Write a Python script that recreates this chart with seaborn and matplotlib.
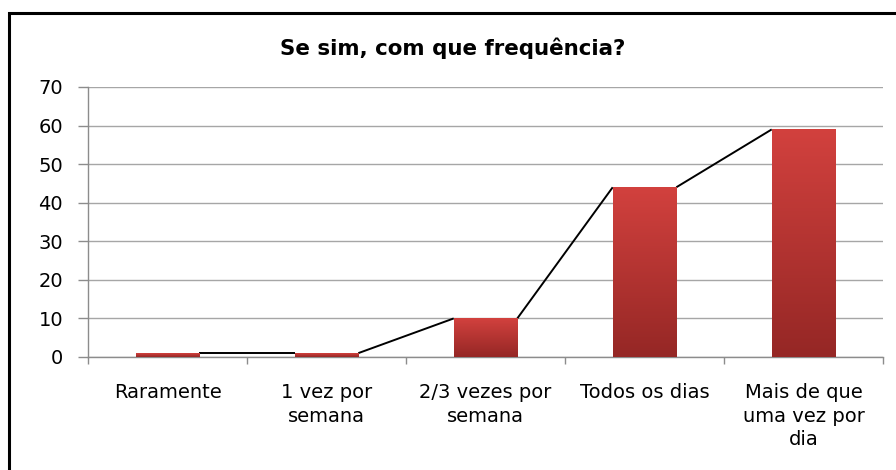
import numpy as np
import pandas as pd
import matplotlib
matplotlib.use('Agg')
import matplotlib.pyplot as plt
import seaborn as sns
from matplotlib.colors import LinearSegmentedColormap
from matplotlib.patches import Rectangle

# data
categories = ['Raramente', '1 vez por\nsemana', '2/3 vezes por\nsemana',
              'Todos os dias', 'Mais de que\numa vez por\ndia']
values = [1, 1, 10, 44, 59]
y_ticks = [0, 10, 20, 30, 40, 50, 60, 70]
title = 'Se sim, com que frequência?'

df = pd.DataFrame({'cat': categories, 'val': values})

sns.set_style('white')
plt.rcParams['font.family'] = ['DejaVu Sans']
plt.rcParams['text.color'] = 'black'
plt.rcParams['xtick.color'] = 'black'
plt.rcParams['ytick.color'] = 'black'

fig = plt.figure(figsize=(8.96, 4.70), dpi=100)
ax = fig.add_axes([88 / 896, 1 - 357 / 470, (883 - 88) / 896, 270 / 470])

sns.barplot(data=df, x='cat', y='val', width=0.4, color='#c93c39',
            ax=ax, zorder=3, saturation=1)

# gradient fill on the bars
grad_cmap = LinearSegmentedColormap.from_list('redgrad', ['#952725', '#d2413e'])
grad = np.linspace(0, 1, 256).reshape(-1, 1)
lefts, rights, tops = [], [], []
for p in ax.patches:
    x0, y0, w, h = p.get_x(), p.get_y(), p.get_width(), p.get_height()
    p.set_facecolor('none')
    p.set_edgecolor('none')
    im = ax.imshow(grad, extent=[x0, x0 + w, y0, y0 + h], origin='lower',
                   aspect='auto', cmap=grad_cmap, zorder=3)
    im.set_clip_path(p)
    lefts.append(x0)
    rights.append(x0 + w)
    tops.append(h)

# connecting line between bars (corner to corner)
for i in range(len(tops) - 1):
    ax.plot([rights[i], lefts[i + 1]], [tops[i], tops[i + 1]],
            color='black', lw=1.4, zorder=2, solid_capstyle='butt')

ax.set_xlim(-0.5, 4.5)
ax.set_ylim(0, 70)
ax.set_yticks(y_ticks)
ax.yaxis.grid(True, color='#a6a6a6', lw=1)
ax.set_axisbelow(True)
ax.set_xlabel('')
ax.set_ylabel('')

for s in ['top', 'right']:
    ax.spines[s].set_visible(False)
for s in ['left', 'bottom']:
    ax.spines[s].set_color('#8c8c8c')
    ax.spines[s].set_linewidth(1)

ax.tick_params(axis='y', length=7, color='#8c8c8c', width=1, labelsize=14,
               pad=11, left=True, labelcolor='black')
ax.set_xticks(range(len(categories)))
ax.set_xticklabels(categories, linespacing=1.3, fontsize=14, va='top')
ax.set_xticks(np.arange(-0.5, len(categories), 1), minor=True)
ax.tick_params(axis='x', which='major', length=0, pad=19, labelcolor='black')
ax.tick_params(axis='x', which='minor', length=5, color='#8c8c8c', width=1,
               bottom=True)

fig.text(453 / 896, 1 - 48 / 470, title, ha='center', va='center',
         fontsize=15.4, fontweight='bold', color='black')

# chart frame
fig.patches.append(Rectangle((9 / 896, -0.1), 1.2, 1 - 13 / 470 + 0.1,
                             transform=fig.transFigure, fill=False,
                             edgecolor='black', lw=2.2, zorder=0))

fig.savefig('out.png', dpi=100)
